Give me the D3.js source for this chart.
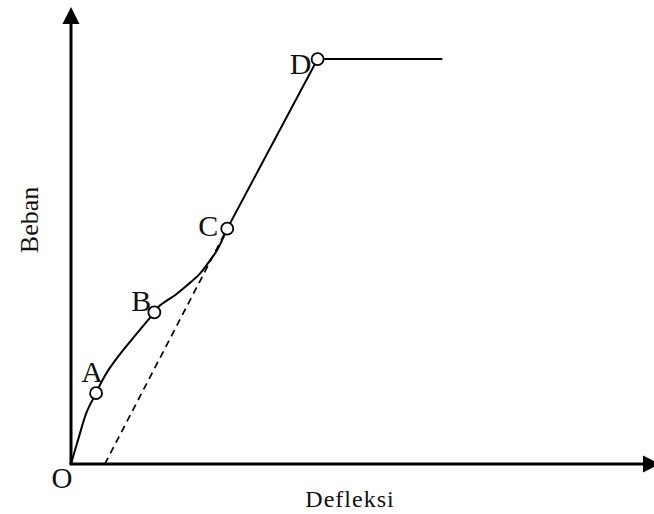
<!DOCTYPE html>
<html>
<head>
<meta charset="utf-8">
<script src="https://cdn.jsdelivr.net/npm/d3@7"></script>
<style>
  body { margin: 0; background: #fff; }
  text { font-family: "Liberation Serif", "DejaVu Serif", serif; fill: #111; }
</style>
</head>
<body>
<div id="chart"></div>
<script>
"use strict";

// load-deflection curve (deflection, load) in arbitrary units
const curveDefl = [0, 0.14, 0.27, 0.43, 0.52, 0.65, 0.88, 1.12, 1.43, 1.51, 1.80, 1.99, 2.20, 2.37, 2.51, 2.68];
const curveLoad = [0, 0.61, 1.14, 1.55, 1.79, 2.07, 2.47, 2.84, 3.32, 3.45, 3.71, 3.91, 4.15, 4.43, 4.69, 5.15];

// straight part after C: C -> D -> plateau
const lineDefl = [2.68, 4.23, 6.37];
const lineLoad = [5.15, 8.86, 8.86];

// marked points
const pointNames = ["A", "B", "C", "D"];
const pointDefl = [0.43, 1.43, 2.68, 4.23];
const pointLoad = [1.55, 3.32, 5.15, 8.86];

// dashed unloading line (residual deflection -> C)
const dashDefl = [0.58, 2.68];
const dashLoad = [0, 5.15];

const axisTitles = { x: "Defleksi", y: "Beban" };

const width = 654, height = 514;
const xScale = d3.scaleLinear().domain([0, 10]).range([71, 654]);
const yScale = d3.scaleLinear().domain([0, 10]).range([464, 7]);

const svg = d3.select("#chart").append("svg")
    .attr("width", width)
    .attr("height", height);

const line = d3.line()
    .x(d => xScale(d[0]))
    .y(d => yScale(d[1]));

// axes
svg.append("line")
    .attr("x1", xScale(0)).attr("y1", yScale(0))
    .attr("x2", xScale(0)).attr("y2", yScale(10) + 14)
    .attr("stroke", "#000").attr("stroke-width", 3);
svg.append("line")
    .attr("x1", xScale(0) - 1.5).attr("y1", yScale(0))
    .attr("x2", xScale(10) - 8).attr("y2", yScale(0))
    .attr("stroke", "#000").attr("stroke-width", 3);

// arrow heads
const yTip = [xScale(0), yScale(10)];
svg.append("path")
    .attr("d", `M${yTip[0]},${yTip[1]} L${yTip[0] - 8.5},${yTip[1] + 17} L${yTip[0] + 8.5},${yTip[1] + 17} Z`)
    .attr("fill", "#000");
const xTip = [xScale(10) + 6, yScale(0)];
svg.append("path")
    .attr("d", `M${xTip[0]},${xTip[1]} L${xTip[0] - 17},${xTip[1] - 8.5} L${xTip[0] - 17},${xTip[1] + 8.5} Z`)
    .attr("fill", "#000");

// dashed line
svg.append("path")
    .attr("d", line(d3.zip(dashDefl, dashLoad)))
    .attr("fill", "none")
    .attr("stroke", "#000")
    .attr("stroke-width", 1.7)
    .attr("stroke-dasharray", "7,5");

// curved part O -> C
svg.append("path")
    .attr("d", line.curve(d3.curveCatmullRom.alpha(0.5))(d3.zip(curveDefl, curveLoad)))
    .attr("fill", "none")
    .attr("stroke", "#000")
    .attr("stroke-width", 2);

// straight part C -> D -> plateau
svg.append("path")
    .attr("d", line.curve(d3.curveLinear)(d3.zip(lineDefl, lineLoad)))
    .attr("fill", "none")
    .attr("stroke", "#000")
    .attr("stroke-width", 2);

// point markers
const pts = pointNames.map((n, i) => ({ name: n, x: pointDefl[i], y: pointLoad[i] }));

svg.append("g")
    .selectAll("circle")
    .data(pts)
    .enter()
    .append("circle")
    .attr("cx", d => xScale(d.x))
    .attr("cy", d => yScale(d.y))
    .attr("r", 6)
    .attr("fill", "#fff")
    .attr("stroke", "#000")
    .attr("stroke-width", 1.8);

// labels sit to the upper left of each point
const labelDx = { A: -4, B: -13, C: -19, D: -17 };
const labelDy = { A: -11, B: -1, C: 7, D: 15 };

svg.append("g")
    .selectAll("text")
    .data(pts)
    .enter()
    .append("text")
    .attr("x", d => xScale(d.x) + labelDx[d.name])
    .attr("y", d => yScale(d.y) + labelDy[d.name])
    .attr("text-anchor", "middle")
    .attr("font-size", 30)
    .text(d => d.name);

// origin label
svg.append("text")
    .attr("x", xScale(0) - 9)
    .attr("y", yScale(0) + 24)
    .attr("text-anchor", "middle")
    .attr("font-size", 29)
    .text("O");

// axis titles
svg.append("text")
    .attr("x", 350)
    .attr("y", 507)
    .attr("text-anchor", "middle")
    .attr("font-size", 24)
    .attr("letter-spacing", 1)
    .text(axisTitles.x);

svg.append("text")
    .attr("transform", "translate(38,220) rotate(-90)")
    .attr("text-anchor", "middle")
    .attr("font-size", 26)
    .text(axisTitles.y);
</script>
</body>
</html>
